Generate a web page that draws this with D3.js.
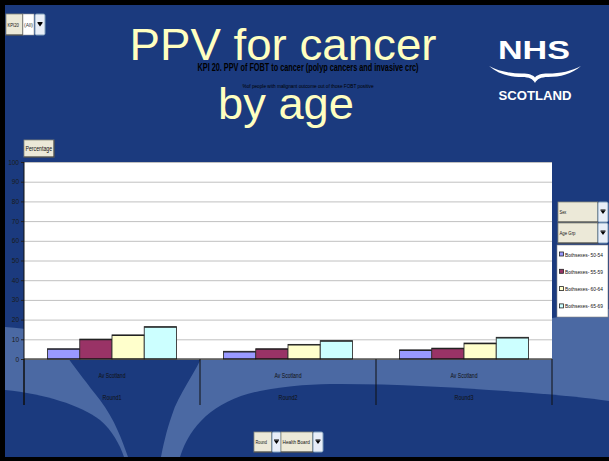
<!DOCTYPE html>
<html><head><meta charset="utf-8">
<script src="https://cdn.jsdelivr.net/npm/d3@7"></script>
<style>body{margin:0;background:#000;} svg{display:block;}</style>
</head><body>
<svg id="c" width="609" height="461"></svg>
<script>
// ---- data ----
const categories = ["Round1", "Round2", "Round3"];
const subCategory = "Av Scotland";
const seriesNames = ["Bothsexes- 50-54", "Bothsexes- 55-59", "Bothsexes- 60-64", "Bothsexes- 65-69"];
const series1 = [5.2, 3.9, 4.6];
const series2 = [10.1, 5.2, 5.5];
const series3 = [12.2, 7.4, 8.1];
const series4 = [16.4, 9.3, 11.0];
const yTicks = [0, 10, 20, 30, 40, 50, 60, 70, 80, 90, 100];
const colors = ["#9999ff", "#993366", "#ffffcc", "#ccffff"];
const titleLines = ["PPV for cancer", "by age"];
const chartTitle = "KPI 20. PPV of FOBT to cancer (polyp cancers and invasive crc)";
const chartSubtitle = "%of people with malignant outcome out of those FOBT positive";

const allSeries = [series1, series2, series3, series4];
const table = categories.map((c, i) => ({cat: c, vals: seriesNames.map((s, j) => ({s, v: allSeries[j][i], j}))}));

const svg = d3.select("#c");
const W = 609, H = 461;
const DARK = "#1b3a7e", LIGHT = "#4b69a3";
const NARROW = "'Liberation Sans Narrow','Liberation Sans',Arial,sans-serif";

// ---- background ----
svg.append("rect").attr("width", W).attr("height", H).attr("fill", "#000");
const bg = svg.append("g");
bg.append("rect").attr("x", 5).attr("y", 5).attr("width", W - 5).attr("height", H - 9).attr("fill", DARK);
bg.append("path").attr("fill", LIGHT)
  .attr("d", "M5,327 C40,330 80,335 120,330 L552,318 Q580,314 609,309 L609,457 L5,457 Z");
// dark wedge
bg.append("path").attr("fill", DARK)
  .attr("d", "M62,350 L205,350 C196,372 178,395 172,415 C166,432 163,447 161,457 L128,457 C122,440 115,420 100,400 C88,385 77,370 62,350 Z");
// bottom-left dark
bg.append("path").attr("fill", DARK)
  .attr("d", "M5,390 C45,394 80,405 100,420 C112,430 120,445 124,457 L5,457 Z");
// bottom dark
bg.append("path").attr("fill", DARK)
  .attr("d", "M180,457 C190,425 215,400 260,391 C290,385 315,384 340,384 C400,384 460,388 520,392 C560,395 590,398 609,401 L609,457 Z");

// ---- big title ----
const tg = svg.append("g").attr("font-family", "'Liberation Sans',Arial,sans-serif").attr("fill", "#ffffc0");
tg.append("text").attr("x", 283).attr("y", 60).attr("text-anchor", "middle").attr("font-size", 45)
  .attr("textLength", 307).attr("lengthAdjust", "spacingAndGlyphs").text(titleLines[0]);
tg.append("text").attr("x", 286).attr("y", 119).attr("text-anchor", "middle").attr("font-size", 45)
  .attr("textLength", 136).attr("lengthAdjust", "spacingAndGlyphs").text(titleLines[1]);

// ---- chart titles ----
svg.append("text").attr("x", 308).attr("y", 71).attr("text-anchor", "middle").attr("font-family", NARROW)
  .attr("font-weight", "bold").attr("font-size", 10).attr("fill", "#000")
  .attr("textLength", 221).attr("lengthAdjust", "spacingAndGlyphs").text(chartTitle);
svg.append("text").attr("x", 308).attr("y", 88).attr("text-anchor", "middle").attr("font-family", NARROW)
  .attr("font-size", 6).attr("fill", "#000")
  .attr("textLength", 131).attr("lengthAdjust", "spacingAndGlyphs").text(chartSubtitle);

// ---- NHS logo ----
const lg = svg.append("g").attr("fill", "#fff").attr("font-family", "'Liberation Sans',Arial,sans-serif").attr("font-weight", "bold");
lg.append("text").attr("x", 534).attr("y", 59).attr("text-anchor", "middle").attr("font-size", 26)
  .attr("textLength", 72).attr("lengthAdjust", "spacingAndGlyphs").text("NHS");
lg.append("path").attr("d", "M489,66 C498,74 510,77 522,77 C529,77 533,79 535,83 C537,79 541,77 548,77 C560,77 572,74 581,66 C572,71 560,73.5 548,73.5 C541,73.5 537,75 535,77.5 C533,75 529,73.5 522,73.5 C510,73.5 498,71 489,66 Z");
lg.append("text").attr("x", 535).attr("y", 100).attr("text-anchor", "middle").attr("font-size", 13)
  .attr("textLength", 73).attr("lengthAdjust", "spacingAndGlyphs").text("SCOTLAND");

// ---- helpers for pivot buttons ----
function button(x, y, w, h, label, fs) {
  const g = svg.append("g");
  g.append("rect").attr("x", x).attr("y", y).attr("width", w).attr("height", h).attr("fill", "#ece9d8").attr("stroke", "#8a8a7a").attr("stroke-width", 0.8);
  g.append("line").attr("x1", x).attr("y1", y + h).attr("x2", x + w).attr("y2", y + h).attr("stroke", "#404040").attr("stroke-width", 1);
  g.append("line").attr("x1", x + w).attr("y1", y).attr("x2", x + w).attr("y2", y + h).attr("stroke", "#404040").attr("stroke-width", 1);
  g.append("text").attr("x", x + 1.5).attr("y", y + h / 2 + fs * 0.35).attr("font-family", NARROW).attr("font-size", fs).attr("fill", "#111")
    .attr("textLength", Math.min(w - 3, label.length * fs * 0.38)).attr("lengthAdjust", "spacingAndGlyphs").text(label);
}
function dropdown(x, y, w, h) {
  const g = svg.append("g");
  g.append("rect").attr("x", x).attr("y", y).attr("width", w).attr("height", h).attr("rx", 1.5).attr("fill", "#e8eef8").attr("stroke", "#7f9db9").attr("stroke-width", 1);
  const cx = x + w / 2, cy = y + h / 2;
  g.append("path").attr("d", `M${cx - 2.5},${cy - 1.5} L${cx + 2.5},${cy - 1.5} L${cx},${cy + 2} Z`).attr("fill", "#000");
  g.append("rect").attr("x", cx - 2.5).attr("y", cy - 2.5).attr("width", 5).attr("height", 1).attr("fill", "#000");
}

// top-left page field
button(6, 14, 17, 21, "KPI20", 6);
svg.append("rect").attr("x", 23).attr("y", 14).attr("width", 11).attr("height", 21).attr("fill", "#fff").attr("stroke", "#999").attr("stroke-width", 0.6);
svg.append("text").attr("x", 24).attr("y", 27).attr("font-family", NARROW).attr("font-size", 6).attr("fill", "#333")
  .attr("textLength", 9).attr("lengthAdjust", "spacingAndGlyphs").text("(All)");
dropdown(35, 14, 10, 21);

// data field button
button(24, 140, 30, 17, "Percentage", 7);

// ---- chart ----
const plotL = 24, plotR = 552, plotT = 162, plotB = 359;
const y = d3.scaleLinear().domain([0, 100]).range([plotB, plotT]);
const x0 = d3.scaleBand().domain(categories).range([plotL, plotR]);
const inner = 23.5;
const x1 = d3.scaleBand().domain(seriesNames).range([inner, x0.bandwidth() - inner]);
const color = d3.scaleOrdinal().domain(seriesNames).range(colors);

svg.append("rect").attr("x", plotL).attr("y", plotT).attr("width", plotR - plotL).attr("height", plotB - plotT).attr("fill", "#fff");

// grid
const grid = svg.append("g").attr("transform", `translate(${plotL},0)`)
  .call(d3.axisLeft(y).tickValues(yTicks).tickSize(-(plotR - plotL)).tickFormat(""));
grid.select(".domain").remove();
grid.selectAll("line").attr("stroke", "#c0c0c0").attr("stroke-width", 1);

// bars
const groups = svg.append("g").selectAll("g").data(table).join("g")
  .attr("transform", d => `translate(${x0(d.cat)},0)`);
groups.selectAll("rect").data(d => d.vals).join("rect")
  .attr("x", d => x1(d.s)).attr("y", d => y(d.v))
  .attr("width", x1.bandwidth()).attr("height", d => y(0) - y(d.v))
  .attr("fill", d => color(d.s)).attr("stroke", "#333").attr("stroke-width", 0.9);
groups.selectAll("line.top").data(d => d.vals).join("line").attr("class", "top")
  .attr("x1", d => x1(d.s)).attr("x2", d => x1(d.s) + x1.bandwidth())
  .attr("y1", d => y(d.v) + 0.5).attr("y2", d => y(d.v) + 0.5)
  .attr("stroke", "#222").attr("stroke-width", 1.2);

// y axis
const yAx = svg.append("g").attr("transform", `translate(${plotL},0)`)
  .call(d3.axisLeft(y).tickValues(yTicks).tickSize(3).tickPadding(2));
yAx.select(".domain").remove();
yAx.selectAll("line").attr("stroke", "#222");
yAx.selectAll("text").attr("font-family", NARROW).attr("font-size", 6.5).attr("fill", "#1a1a1a");
svg.append("line").attr("x1", plotL).attr("x2", plotL).attr("y1", plotT).attr("y2", 405).attr("stroke", "#111").attr("stroke-width", 1);

// x axis
const xAx = svg.append("g").attr("transform", `translate(0,${plotB})`)
  .call(d3.axisBottom(x0).tickSize(0));
xAx.select(".domain").attr("stroke", "#000").attr("stroke-width", 1.2).attr("d", `M${plotL},0H${plotR}`);
xAx.selectAll(".tick text").attr("y", 41).attr("dy", 0)
  .attr("font-family", NARROW).attr("font-size", 7).attr("fill", "#111")
  .attr("textLength", 19).attr("lengthAdjust", "spacingAndGlyphs");
xAx.selectAll(".tick").append("text").attr("y", 19).attr("text-anchor", "middle")
  .attr("font-family", NARROW).attr("font-size", 7).attr("fill", "#111")
  .attr("textLength", 27).attr("lengthAdjust", "spacingAndGlyphs").text(subCategory);
// category separators
const edges = [x0.range()[0]].concat(categories.map(c => x0(c) + x0.bandwidth()));
svg.append("g").selectAll("line").data(edges).join("line")
  .attr("x1", d => d).attr("x2", d => d).attr("y1", plotB).attr("y2", 405)
  .attr("stroke", "#111").attr("stroke-width", 1);

// ---- legend / row fields ----
button(558, 202, 40, 20, "Sex", 6);
dropdown(598, 202, 10, 20);
button(558, 223, 40, 20, "Age Grp", 6);
dropdown(598, 223, 10, 20);
const leg = svg.append("g");
leg.append("rect").attr("x", 557).attr("y", 245).attr("width", 51).attr("height", 72).attr("fill", "#fff").attr("stroke", "#888").attr("stroke-width", 0.6);
const li = leg.selectAll("g").data(seriesNames).join("g")
  .attr("transform", (d, i) => `translate(559,${255 + i * 17.3})`);
li.append("rect").attr("x", 0.5).attr("y", -3).attr("width", 4).attr("height", 4).attr("fill", d => color(d)).attr("stroke", "#222").attr("stroke-width", 0.8);
li.append("text").attr("x", 6).attr("y", 1.5).attr("font-family", NARROW).attr("font-size", 5.2).attr("fill", "#111")
  .attr("textLength", 38).attr("lengthAdjust", "spacingAndGlyphs").text(d => d);

// ---- bottom column fields ----
button(254, 432, 18, 20, "Round", 6);
dropdown(272, 432, 9, 20);
button(281, 432, 32, 20, "Health Board", 6);
dropdown(313, 432, 10, 20);
</script>
</body></html>
